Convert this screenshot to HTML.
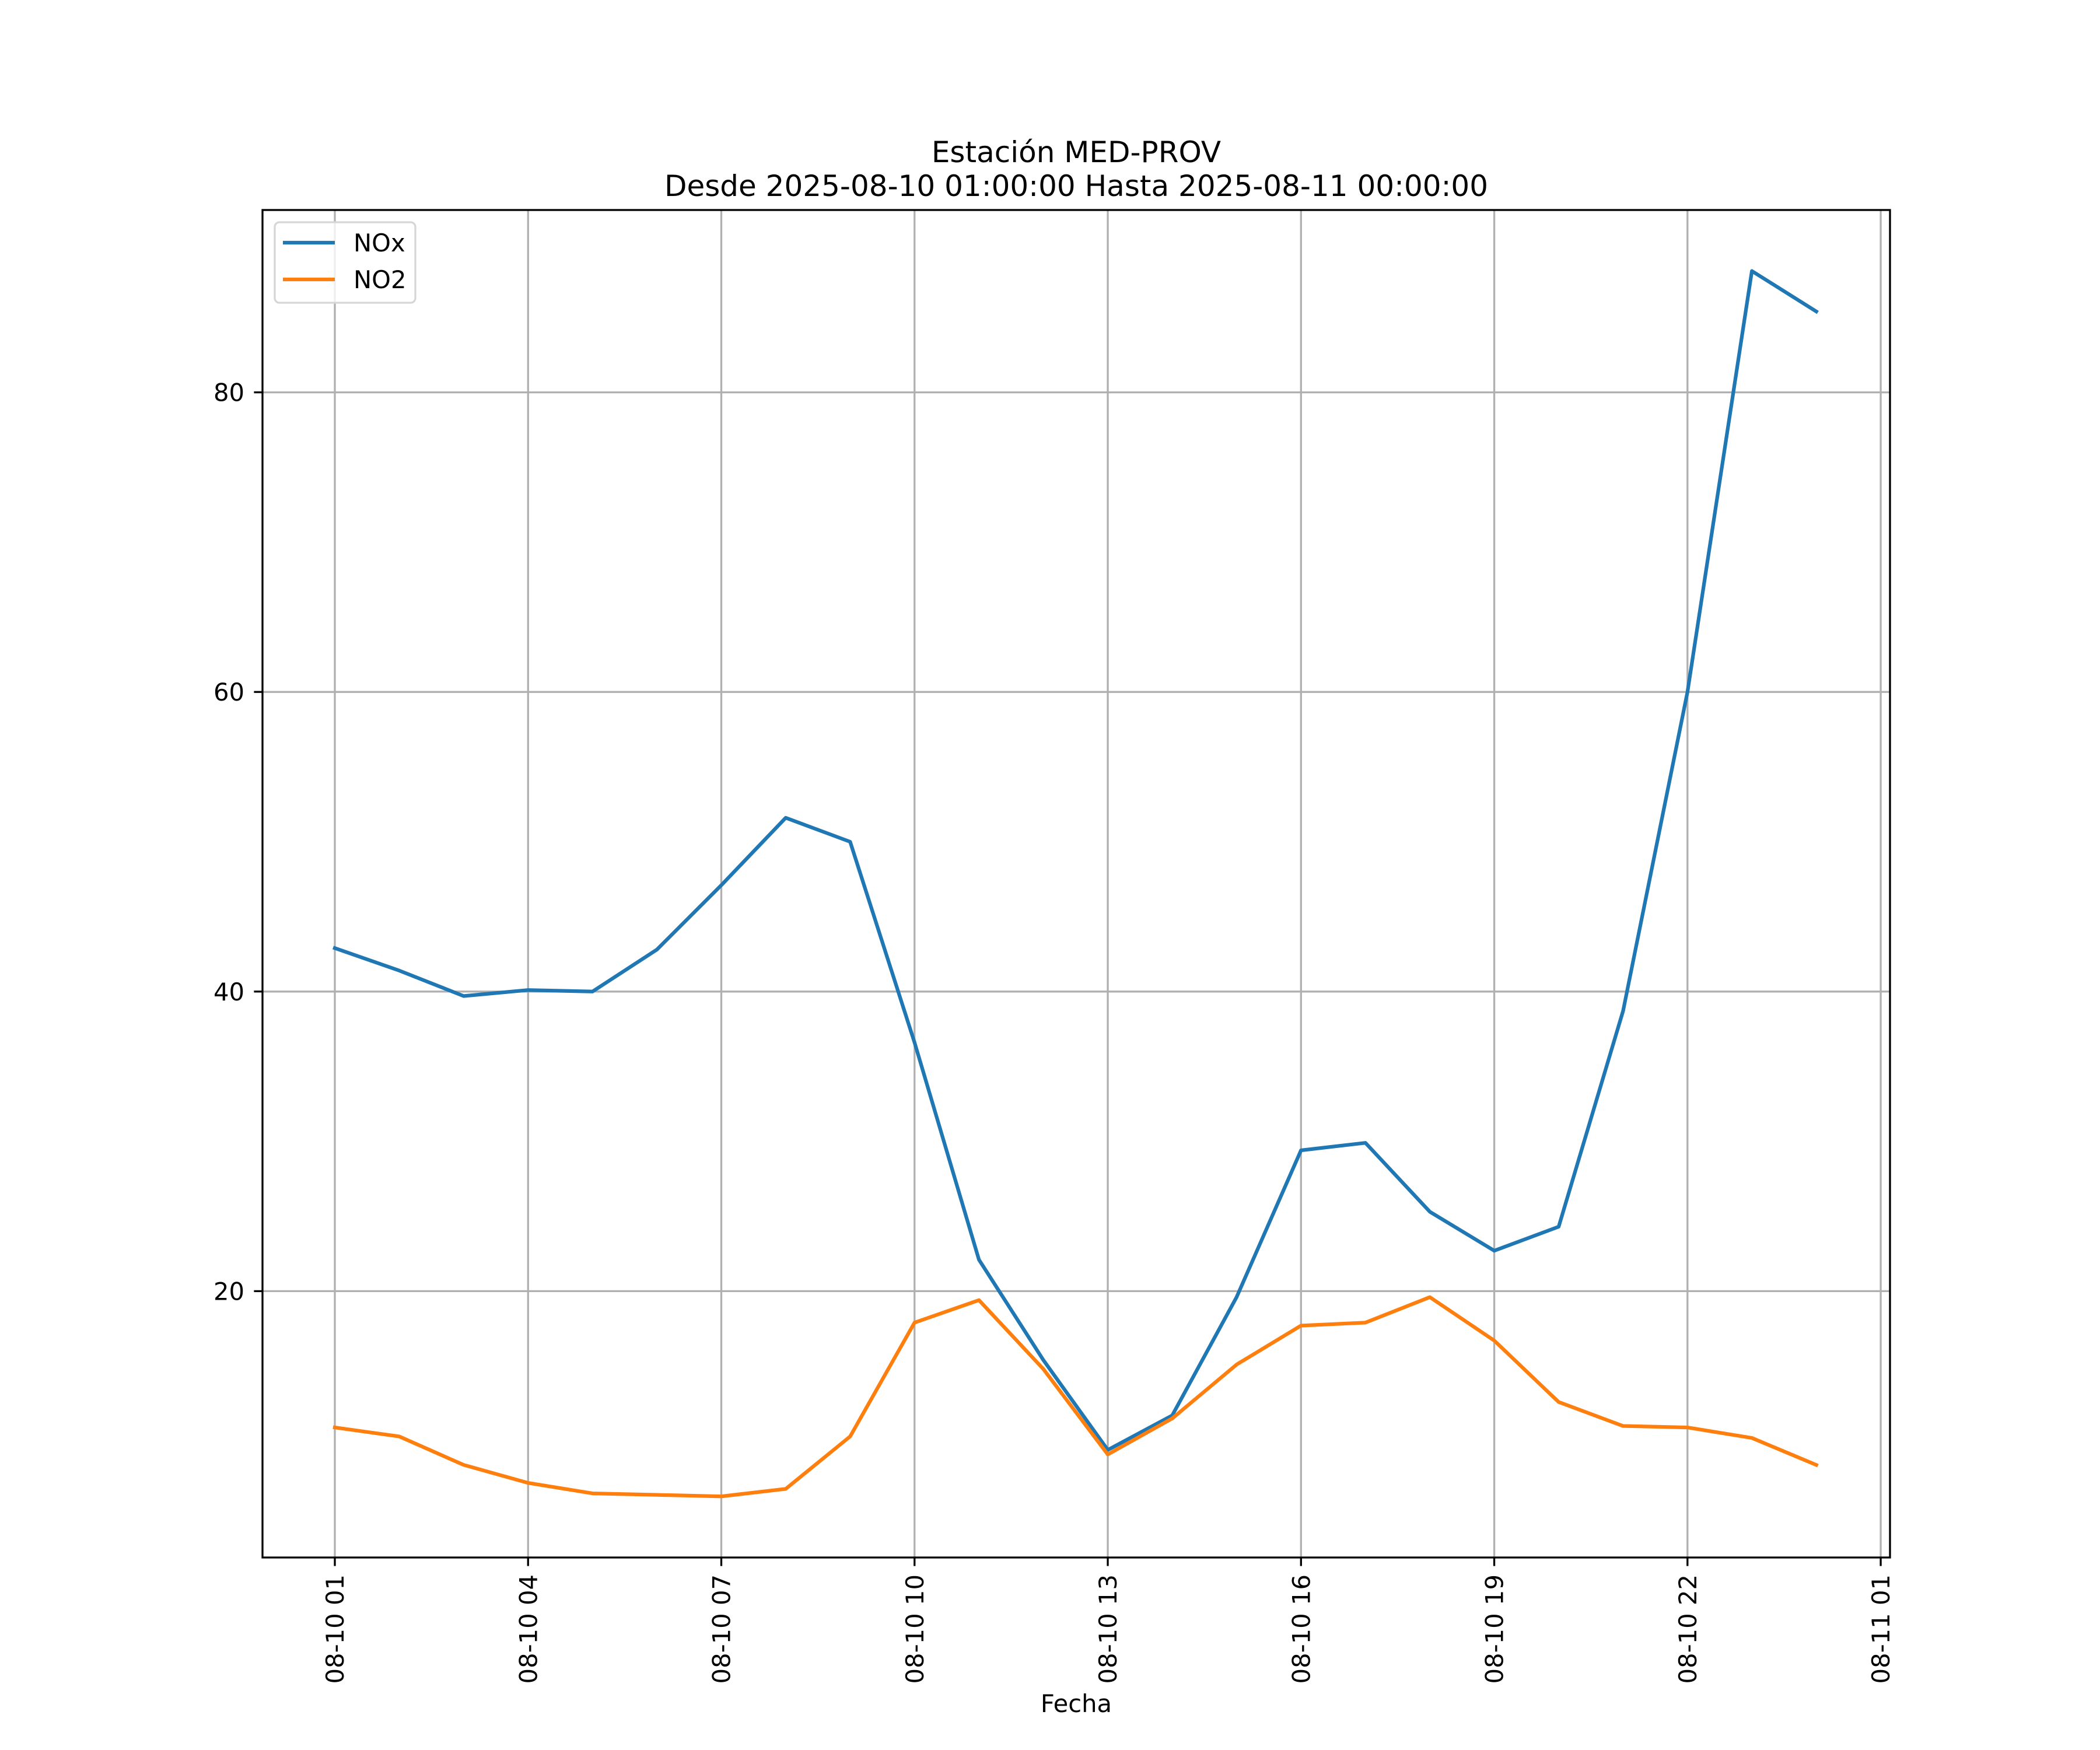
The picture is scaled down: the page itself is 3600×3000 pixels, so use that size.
<!DOCTYPE html>
<html><head><meta charset="utf-8"><style>html,body{margin:0;padding:0;background:#fff}svg{display:block}text{font-family:"DejaVu Sans","Liberation Sans",sans-serif}</style></head>
<body>
<svg id="chart" width="3600" height="3000" viewBox="0 0 3600 3000" xmlns="http://www.w3.org/2000/svg">
<rect width="3600" height="3000" fill="#fff"/>
<g id="grid"></g><g id="series"></g><g id="axes"></g>
</svg>
<script>
const hours = [1,2,3,4,5,6,7,8,9,10,11,12,13,14,15,16,17,18,19,20,21,22,23,24];
const noxValues = [42.9,41.4,39.7,40.1,40.0,42.8,47.1,51.6,50.0,36.6,22.1,15.4,9.4,11.7,19.6,29.4,29.9,25.3,22.7,24.3,38.7,60.0,88.1,85.4];
const no2Values = [10.9,10.3,8.4,7.2,6.5,6.4,6.3,6.8,10.3,17.9,19.4,14.8,9.1,11.5,15.1,17.7,17.9,19.6,16.7,12.6,11.0,10.9,10.2,8.4];
const xTickHours = [1,4,7,10,13,16,19,22,25];
const xTickLabels = ["08-10 01","08-10 04","08-10 07","08-10 10","08-10 13","08-10 16","08-10 19","08-10 22","08-11 01"];
const yTicks = [20,40,60,80];

const L=450,R=3240,T=360,B=2670;
function xs(h){return 574+(h-1)*110.42;}
function ys(v){return 2727-v*25.68;}
const NS="http://www.w3.org/2000/svg";
function mk(tag,attrs,parent,txt){const e=document.createElementNS(NS,tag);for(const k in attrs)e.setAttribute(k,attrs[k]);if(txt!==undefined)e.textContent=txt;parent.appendChild(e);return e;}
const grid=document.getElementById('grid'),series=document.getElementById('series'),axes=document.getElementById('axes'),svg=document.getElementById('chart');
xTickHours.forEach((h,i)=>{
  const x=xs(h);
  const g=mk('line',{x1:x,x2:x,y1:T,y2:B,stroke:'#b0b0b0','stroke-width':3.3},grid);
  
  
  const t=mk('line',{x1:x,x2:x,y1:B,y2:B+14.6,stroke:'#000','stroke-width':3.3},axes);
  
  
  const lb=mk('text',{x:x+15,y:B+29,'font-size':41.7,'text-anchor':'end',transform:`rotate(-90 ${x+15} ${B+29})`},axes,xTickLabels[i]);
  
  
});
yTicks.forEach(v=>{
  const y=ys(v);
  const g=mk('line',{x1:L,x2:R,y1:y,y2:y,stroke:'#b0b0b0','stroke-width':3.3},grid);
  
  
  const t=mk('line',{x1:L-14.6,x2:L,y1:y,y2:y,stroke:'#000','stroke-width':3.3},axes);
  
  
  const lb=mk('text',{x:419,y:y+15,'font-size':41.7,'text-anchor':'end'},axes,String(v));
  
  
});
function line(vals,color,name){
  const p=mk('polyline',{points:hours.map((h,i)=>xs(h)+','+ys(vals[i])).join(' '),fill:'none',stroke:color,'stroke-width':6.25,'stroke-linejoin':'round','stroke-linecap':'square'},series);
  
  
}
line(noxValues,'#1f77b4','nox-line');
line(no2Values,'#ff7f0e','no2-line');
const sp=mk('rect',{x:L,y:T,width:R-L,height:B-T,fill:'none',stroke:'#000','stroke-width':3.3},axes);


const t1=mk('text',{x:1845,y:278,'font-size':50,'text-anchor':'middle'},axes,'Estación MED-PROV');


const t2=mk('text',{x:1845,y:336,'font-size':50,'text-anchor':'middle'},axes,'Desde 2025-08-10 01:00:00 Hasta 2025-08-11 00:00:00');


const xl=mk('text',{x:1845,y:2935,'font-size':41.7,'text-anchor':'middle'},axes,'Fecha');


const lg=mk('g',{},axes);


mk('rect',{x:471,y:381,width:241,height:138,rx:8,fill:'#fff','fill-opacity':0.8,stroke:'#d6d6d6','stroke-width':3.3},lg);
[['NOx','#1f77b4',416],['NO2','#ff7f0e',479]].forEach(([n,c,y])=>{
  const e=mk('g',{},lg);
  
  
  mk('line',{x1:485,x2:574,y1:y,y2:y,stroke:c,'stroke-width':6.25},e);
  mk('text',{x:606,y:y+15,'font-size':41.7},e,n);
});
</script>
</body></html>
